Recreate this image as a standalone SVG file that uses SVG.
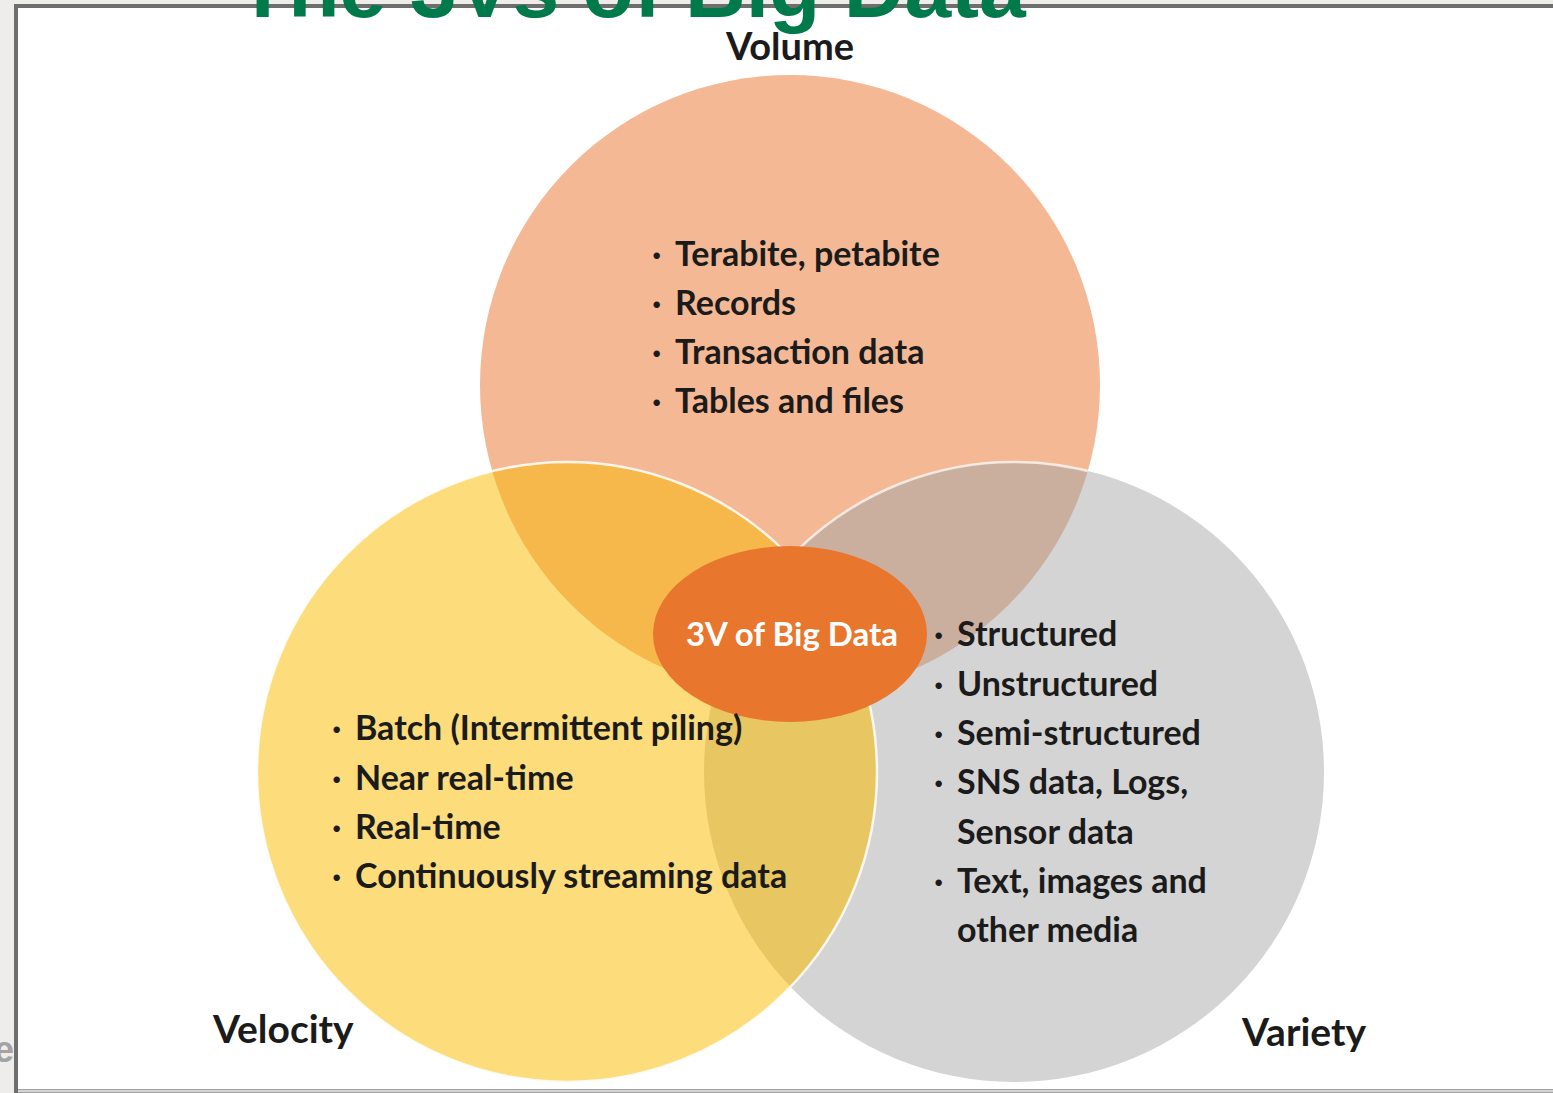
<svg xmlns="http://www.w3.org/2000/svg" width="1553" height="1093" viewBox="0 0 1553 1093">
<style>
.lbl{font-family:Lato,"Open Sans","Liberation Sans",sans-serif;font-weight:700;fill:#1b1b1b}
.item{font-family:Lato,"Open Sans","Liberation Sans",sans-serif;font-weight:700;font-size:34px;fill:#1b1b1b}
.head{font-size:39px}
</style>
<defs>
<clipPath id="cVol"><circle cx="790" cy="385" r="310"/></clipPath>
<clipPath id="cVar"><circle cx="1014" cy="772" r="310"/></clipPath>
</defs>
<rect x="0" y="0" width="1553" height="1093" fill="#eeede9"/>
<rect x="16" y="6" width="1560" height="1085" fill="#ffffff" stroke="#6e6e6e" stroke-width="4"/>
<line x1="18" y1="1091" x2="1553" y2="1091" stroke="#d4d4d4" stroke-width="3"/>
<text x="14" y="1062" text-anchor="end" font-family="Liberation Sans,sans-serif" font-weight="700" font-size="36" fill="#a3a3a3">e</text>

<g id="volume">
<circle cx="790" cy="385" r="310" fill="#f4b994"/>
</g>
<g id="variety">
<circle cx="1014" cy="772" r="310" fill="#d4d4d4"/>
</g>
<g id="velocity">
<circle cx="567" cy="772" r="310" fill="#fddc7c"/>
</g>
<g id="overlaps">
<circle cx="1014" cy="772" r="310" fill="#cbaf9e" clip-path="url(#cVol)"/>
<circle cx="567" cy="772" r="310" fill="#f7b84b" clip-path="url(#cVol)"/>
<circle cx="567" cy="772" r="310" fill="#e8c762" clip-path="url(#cVar)"/>
<circle cx="1014" cy="772" r="310" fill="none" stroke="#fff" stroke-opacity="0.7" stroke-width="2.5" clip-path="url(#cVol)"/>
<circle cx="567" cy="772" r="310" fill="none" stroke="#fff" stroke-opacity="0.85" stroke-width="2.5"/>
</g>
<g id="center">
<ellipse cx="790" cy="634" rx="137" ry="88" fill="#e8762d"/>
<text x="792" y="646" text-anchor="middle" class="lbl" font-size="33" style="fill:#fff">3V of Big Data</text>
</g>

<g id="volume-text">
<text x="790" y="60" text-anchor="middle" class="lbl" font-size="38">Volume</text>
<text class="item" y="266"><tspan x="652">·</tspan><tspan x="675">Terabite, petabite</tspan></text>
<text class="item" y="315"><tspan x="652">·</tspan><tspan x="675">Records</tspan></text>
<text class="item" y="364"><tspan x="652">·</tspan><tspan x="675">Transaction data</tspan></text>
<text class="item" y="413"><tspan x="652">·</tspan><tspan x="675">Tables and files</tspan></text>
</g>
<g id="velocity-text">
<text x="213" y="1043" class="lbl head">Velocity</text>
<text class="item" y="740"><tspan x="332">·</tspan><tspan x="355">Batch (Intermittent piling)</tspan></text>
<text class="item" y="790"><tspan x="332">·</tspan><tspan x="355">Near real-time</tspan></text>
<text class="item" y="839"><tspan x="332">·</tspan><tspan x="355">Real-time</tspan></text>
<text class="item" y="888"><tspan x="332">·</tspan><tspan x="355">Continuously streaming data</tspan></text>
</g>
<g id="variety-text">
<text x="1242" y="1046" class="lbl head">Variety</text>
<text class="item" y="646"><tspan x="934">·</tspan><tspan x="957">Structured</tspan></text>
<text class="item" y="696"><tspan x="934">·</tspan><tspan x="957">Unstructured</tspan></text>
<text class="item" y="745"><tspan x="934">·</tspan><tspan x="957">Semi-structured</tspan></text>
<text class="item" y="794"><tspan x="934">·</tspan><tspan x="957">SNS data, Logs,</tspan></text>
<text class="item" y="844" x="957">Sensor data</text>
<text class="item" y="893"><tspan x="934">·</tspan><tspan x="957">Text, images and</tspan></text>
<text class="item" y="942" x="957">other media</text>
</g>
<text id="title" x="237" y="17" font-family="Liberation Sans,Arial,sans-serif" font-weight="700" font-size="84" fill="#007a4a">The 3Vs of Big Data</text>
</svg>
